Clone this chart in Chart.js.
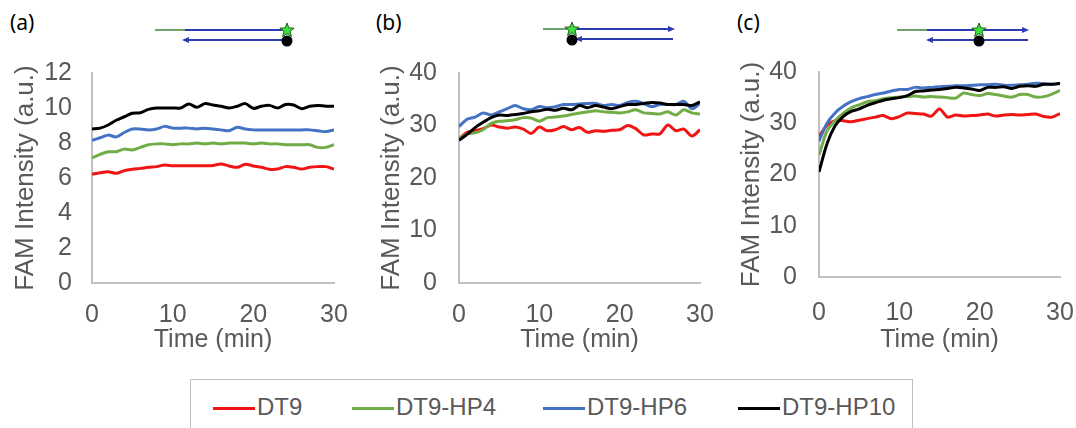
<!DOCTYPE html>
<html>
<head>
<meta charset="utf-8">
<script src="https://cdn.jsdelivr.net/npm/chart.js@4.4.1/dist/chart.umd.min.js"></script>
<style>
  body { margin: 0; width: 1076px; height: 428px; background: #fff; position: relative; overflow: hidden;
         font-family: 'Liberation Sans', Arial, sans-serif; }
  canvas { position: absolute; top: 0; }
  .tag { position: absolute; top: 8px; font: 21px 'Noto Sans', sans-serif; color: #000; }
  #legend { position: absolute; left: 190px; top: 379px; width: 723px; height: 70px;
            border: 1px solid #bfbfbf; box-sizing: border-box; }
  .key { position: absolute; top: 27px; width: 42px; height: 3px; }
  .lbl { position: absolute; top: 13px; font-size: 24px; line-height: 28px; color: #595959; }
</style>
</head>
<body>
<div class="tag" style="left:10px">(a)</div>
<div class="tag" style="left:376px">(b)</div>
<div class="tag" style="left:737px">(c)</div>
<canvas id="chartA" width="356" height="360" style="left:0px"></canvas>
<canvas id="chartB" width="360" height="360" style="left:360px"></canvas>
<canvas id="chartC" width="356" height="360" style="left:720px"></canvas>
<div id="legend"></div>

<script>
// waktu (menit)
const time = [0,1,2,3,4,5,6,7,8,9,10,11,12,13,14,15,16,17,18,19,20,21,22,23,24,25,26,27,28,29,30];
const xTicks = [0, 10, 20, 30];
const yTicksA = [0, 2, 4, 6, 8, 10, 12];
const yTicksBC = [0, 10, 20, 30, 40];

const seriesNames = ['DT9', 'DT9-HP4', 'DT9-HP6', 'DT9-HP10'];
const seriesColors = ['#f01414', '#70ad47', '#4472c4', '#000000'];

// panel (a)
const dt9A  = [6.21,6.3,6.36,6.27,6.42,6.5,6.55,6.61,6.65,6.74,6.7,6.7,6.7,6.7,6.7,6.72,6.8,6.69,6.61,6.78,6.69,6.61,6.5,6.51,6.65,6.61,6.51,6.61,6.65,6.65,6.51];
const hp4A  = [7.15,7.35,7.5,7.5,7.65,7.6,7.75,7.9,7.95,7.95,7.9,7.95,7.95,8.0,7.95,8.0,7.95,8.0,8.0,8.0,7.95,8.0,7.95,7.95,7.9,7.9,7.9,7.9,7.75,7.75,7.9];
const hp6A  = [8.15,8.3,8.45,8.35,8.6,8.8,8.8,8.75,8.8,8.95,8.85,8.85,8.85,8.8,8.85,8.8,8.75,8.7,8.9,8.8,8.75,8.75,8.75,8.75,8.75,8.75,8.75,8.75,8.7,8.65,8.75];
const hp10A = [8.8,8.85,9.03,9.3,9.5,9.7,9.73,9.92,10.0,10.0,10.0,10.0,10.23,10.04,10.25,10.17,10.1,10.0,10.1,10.25,9.98,10.1,10.15,10.0,10.2,10.17,9.96,10.1,10.15,10.1,10.1];

// panel (b)
const dt9B  = [27.4,28.7,29.0,29.4,30.1,29.7,29.5,29.7,29.3,28.5,29.7,29.0,29.2,29.8,29.2,29.6,28.7,29.0,28.9,29.1,29.2,30.0,29.4,28.2,28.4,28.4,30.1,29.0,29.3,28.0,29.2];
const hp4B  = [27.4,28.4,28.6,29.2,30.4,30.8,30.9,31.1,31.5,31.4,30.8,31.5,31.6,31.8,32.1,32.4,32.6,32.8,32.6,32.5,32.4,32.6,33.0,32.4,32.3,32.2,32.6,32.0,33.0,32.4,32.2];
const hp6B  = [29.8,31.2,31.6,32.4,32.0,32.6,33.2,33.8,33.2,33.0,33.6,33.4,33.6,34.0,34.0,34.1,34.2,34.2,33.8,34.0,33.8,34.4,34.6,34.2,33.6,34.0,34.0,34.0,34.6,33.2,34.2];
const hp10B = [27.2,28.3,29.6,30.6,31.5,32.0,31.9,32.1,32.3,32.6,32.8,33.1,32.9,33.3,33.0,33.8,33.4,33.8,33.5,33.2,33.6,34.0,34.0,34.2,34.4,34.3,34.0,34.0,34.0,33.8,34.5];

// panel (c)
const dt9C  = [27.4,29.6,30.5,30.5,30.3,30.6,30.9,31.2,31.5,30.9,31.3,32.0,31.9,31.8,31.4,32.8,31.2,31.6,31.4,31.5,31.6,31.8,31.4,31.6,31.7,31.6,31.7,31.8,31.3,31.2,31.9];
const hp4C  = [23.8,28.5,30.5,31.9,33.0,33.6,34.2,34.4,34.8,35.0,35.1,35.2,35.3,35.1,35.2,35.1,35.0,34.9,35.9,35.6,35.4,35.8,35.6,35.3,35.1,35.6,35.6,35.1,35.2,35.7,36.4];
const hp6C  = [26.5,30.0,32.0,33.3,34.2,34.8,35.2,35.6,35.9,36.3,36.6,36.6,37.0,36.9,37.0,37.1,37.2,37.3,37.3,37.4,37.5,37.5,37.6,37.4,37.4,37.5,37.6,37.8,37.7,37.6,37.7];
const hp10C = [20.5,26.0,29.5,31.3,32.3,32.8,33.5,34.0,34.5,34.8,35.0,35.4,36.2,36.3,36.5,36.6,36.8,37.0,36.9,36.7,36.4,37.0,37.0,37.1,36.8,37.2,37.3,37.2,37.6,37.6,37.8];

const axisColor = '#bfbfbf';
const textColor = '#595959';

// gambar skema DNA kecil di atas tiap panel (koordinat kanvas)
const schemePlugin = {
  id: 'scheme',
  afterDraw(chart, args, s) {
    if (!s || !s.topY) return;
    const ctx = chart.ctx;
    ctx.save();
    ctx.lineWidth = 2;
    // untai atas
    ctx.strokeStyle = '#6fa36f';
    ctx.beginPath(); ctx.moveTo(s.green[0], s.topY); ctx.lineTo(s.green[1], s.topY); ctx.stroke();
    ctx.strokeStyle = '#2a3cb0';
    ctx.beginPath(); ctx.moveTo(s.top[0], s.topY); ctx.lineTo(s.top[1], s.topY); ctx.stroke();
    if (s.topArrow) arrow(ctx, s.top[1], s.topY, 1);
    // untai bawah
    ctx.beginPath(); ctx.moveTo(s.bottom[0], s.botY); ctx.lineTo(s.bottom[1], s.botY); ctx.stroke();
    arrow(ctx, s.bottom[0], s.botY, -1);
    // quencher
    ctx.fillStyle = '#000';
    ctx.beginPath(); ctx.arc(s.mark, s.botY + 1, 5.5, 0, Math.PI * 2); ctx.fill();
    // FAM
    ctx.beginPath();
    for (let i = 0; i < 10; i++) {
      const r = i % 2 ? 3.2 : 7.5;
      const a = -Math.PI / 2 + i * Math.PI / 5;
      const px = s.mark + r * Math.cos(a), py = s.topY + 0.5 + r * Math.sin(a);
      i ? ctx.lineTo(px, py) : ctx.moveTo(px, py);
    }
    ctx.closePath();
    ctx.fillStyle = '#3ee03e'; ctx.fill();
    ctx.lineWidth = 1; ctx.strokeStyle = '#1f5a1f'; ctx.stroke();
    ctx.restore();
  }
};

function arrow(ctx, x, y, dir) {
  ctx.save();
  ctx.fillStyle = '#2a3cb0';
  ctx.beginPath();
  ctx.moveTo(x + dir * 2, y);
  ctx.lineTo(x - dir * 5, y - 3);
  ctx.lineTo(x - dir * 5, y + 3);
  ctx.closePath();
  ctx.fill();
  ctx.restore();
}

function makePanel(id, values, yMax, yTicks, box, scheme) {
  const datasets = values.map((v, i) => ({
    label: seriesNames[i],
    data: time.map((t, k) => ({ x: t, y: v[k] })),
    borderColor: seriesColors[i],
    borderWidth: 3,
    pointRadius: 0,
    tension: 0.3,
    order: values.length - i
  }));
  return new Chart(document.getElementById(id), {
    type: 'line',
    data: { datasets },
    plugins: [schemePlugin],
    options: {
      responsive: false,
      animation: false,
      layout: { padding: { left: box.padLeft, right: box.padRight, top: box.top, bottom: 0 } },
      scales: {
        x: {
          type: 'linear', min: 0, max: 30,
          afterBuildTicks: s => { s.ticks = xTicks.map(v => ({ value: v })); },
          // label "30" boleh keluar sedikit, jangan menyempitkan area plot
          afterFit: s => { s.height = box.xHeight; s.paddingLeft = 0; s.paddingRight = 14; },
          grid: { display: false, drawTicks: false },
          border: { display: true, color: axisColor, width: 2 },
          ticks: { color: textColor, font: { size: 25 }, padding: box.xPad, maxRotation: 0 },
          title: { display: true, text: 'Time (min)', color: textColor, font: { size: 25 }, padding: { top: 0, bottom: 5 } }
        },
        y: {
          min: 0, max: yMax,
          afterBuildTicks: s => { s.ticks = yTicks.map(v => ({ value: v })); },
          afterFit: s => { s.width = box.yWidth; },
          grid: { display: false, drawTicks: false },
          border: { display: true, color: axisColor, width: 2 },
          ticks: { color: textColor, font: { size: 25 }, padding: box.yPad },
          title: { display: true, text: 'FAM Intensity (a.u.)', color: textColor, font: { size: 26 }, padding: { top: 3, bottom: 0 } }
        }
      },
      plugins: {
        legend: { display: false },
        tooltip: { enabled: false },
        scheme
      }
    }
  });
}

Chart.defaults.font.family = "'Liberation Sans', Arial, sans-serif";

makePanel('chartA', [dt9A, hp4A, hp6A, hp10A], 12, yTicksA,
  { padLeft: 7, yWidth: 85, padRight: 22, top: 73, xHeight: 77, xPad: 17, yPad: 20 },
  { topY: 30, botY: 40, green: [155, 185], top: [185, 284], topArrow: false, bottom: [184, 284], mark: 287 });

makePanel('chartB', [dt9B, hp4B, hp6B, hp10B], 40, yTicksBC,
  { padLeft: 13, yWidth: 86, padRight: 20, top: 73, xHeight: 77, xPad: 17, yPad: 22 },
  { topY: 29, botY: 39, green: [183, 208], top: [215, 313], topArrow: true, bottom: [217, 313], mark: 212 });

makePanel('chartC', [dt9C, hp4C, hp6C, hp10C], 40, yTicksBC,
  { padLeft: 13, yWidth: 86, padRight: 16, top: 72, xHeight: 83, xPad: 21, yPad: 22 },
  { topY: 30, botY: 40, green: [177, 207], top: [207, 307], topArrow: true, bottom: [208, 308], mark: 259 });

// legenda bersama di bawah
const legend = document.getElementById('legend');
const keyLeft = [22, 161, 352, 547];
seriesNames.forEach((name, i) => {
  const key = document.createElement('div');
  key.className = 'key';
  key.style.left = keyLeft[i] + 'px';
  key.style.background = seriesColors[i];
  legend.appendChild(key);
  const lbl = document.createElement('div');
  lbl.className = 'lbl';
  lbl.style.left = (keyLeft[i] + 44) + 'px';
  lbl.textContent = name;
  legend.appendChild(lbl);
});
</script>
</body>
</html>
